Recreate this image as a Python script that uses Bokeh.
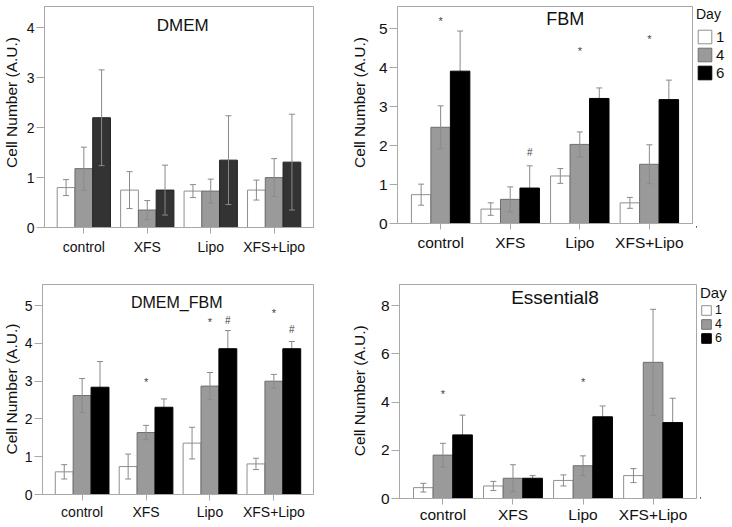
import math
from bokeh.plotting import figure
from bokeh.models import (Range1d, FixedTicker, Label, Legend, LegendItem, Whisker,
                          TeeHead, ColumnDataSource)
from bokeh.layouts import row, column
from bokeh.transform import dodge
from bokeh.embed import file_html
from bokeh.resources import INLINE
from bokeh.core.properties import value

# ---------------- data ----------------
categories = ["control", "XFS", "Lipo", "XFS+Lipo"]
days = ["1", "4", "6"]
y_label = "Cell Number (A.U.)"

dmem_day1 = [0.80, 0.75, 0.73, 0.75]
dmem_day1_err = [0.16, 0.37, 0.13, 0.20]
dmem_day4 = [1.18, 0.35, 0.73, 1.00]
dmem_day4_err = [0.43, 0.19, 0.24, 0.38]
dmem_day6 = [2.20, 0.75, 1.35, 1.31]
dmem_day6_err = [0.96, 0.50, 0.89, 0.96]

fbm_day1 = [0.74, 0.37, 1.22, 0.53]
fbm_day1_err = [0.27, 0.16, 0.19, 0.14]
fbm_day4 = [2.47, 0.62, 2.03, 1.52]
fbm_day4_err = [0.55, 0.32, 0.32, 0.50]
fbm_day6 = [3.91, 0.91, 3.21, 3.18]
fbm_day6_err = [1.03, 0.57, 0.27, 0.50]
fbm_star_y = [5.12, None, 4.36, 4.65]
fbm_hash_y = [None, 1.80, None, None]

dmemfbm_day1 = [0.60, 0.74, 1.36, 0.81]
dmemfbm_day1_err = [0.19, 0.33, 0.42, 0.15]
dmemfbm_day4 = [2.62, 1.64, 2.87, 3.00]
dmemfbm_day4_err = [0.45, 0.19, 0.36, 0.18]
dmemfbm_day6 = [2.84, 2.31, 3.86, 3.86]
dmemfbm_day6_err = [0.68, 0.22, 0.48, 0.19]
dmemfbm_star_y = [None, 2.91, 4.48, 4.72]
dmemfbm_hash_y = [None, None, 4.57, 4.35]

e8_day1 = [0.45, 0.52, 0.75, 0.95]
e8_day1_err = [0.18, 0.19, 0.23, 0.29]
e8_day4 = [1.80, 0.84, 1.36, 5.65]
e8_day4_err = [0.49, 0.56, 0.41, 2.20]
e8_day6 = [2.64, 0.84, 3.39, 3.15]
e8_day6_err = [0.82, 0.11, 0.45, 1.01]
e8_star_y = [4.23, None, 4.71, None]
e8_hash_y = [None, None, None, None]

# ---------------- style ----------------
FONT = "Liberation Sans"
FRAME = "#a8a8a8"
WHITE_FILL, WHITE_LINE = "#ffffff", "#8f8f8f"
GRAY_FILL, GRAY_LINE = "#9a9a9a", "#6e6e6e"
ERR = "#8a8a8a"
TXT = "#111111"
BW = 0.28
pos = list(range(1, len(categories) + 1))


def blank(W, H, bl=0, bt=0):
    q = figure(width=W, height=H, output_backend="svg", toolbar_location=None,
               x_range=Range1d(0, W - bl), y_range=Range1d(0, H - bt),
               x_axis_location=None, y_axis_location=None,
               min_border_left=bl, min_border_top=bt, min_border_right=0, min_border_bottom=0)
    q.grid.visible = False
    q.outline_line_color = None
    return q


def ylabel_fig(W, H, cx, cy):
    # narrow strip holding the rotated y-axis title (cx, cy: centre, px from left/top)
    q = blank(W, H)
    q.add_layout(Label(x=cx, y=H - cy, text=y_label, angle=math.pi / 2,
                       text_align="center", text_baseline="middle",
                       text_font=FONT, text_font_size="15.5px", text_color=TXT))
    return q


def panel(title, series, ymax, yticks, dark, W, H, bl, br, bt, bb,
          tick_fs, title_fs, title_xy, xlab_standoff, stars=None, hashes=None):
    p = figure(width=W, height=H, x_range=Range1d(0.38, 4.62), y_range=Range1d(0, ymax),
               output_backend="svg", toolbar_location=None,
               min_border_left=bl, min_border_right=br, min_border_top=bt, min_border_bottom=bb)
    p.grid.visible = False
    p.outline_line_color = FRAME
    p.outline_line_width = 1
    dark_line = "#000000" if dark == "#000000" else "#222222"
    styles = [(-BW, WHITE_FILL, WHITE_LINE, "annotation"),
              (0.0, GRAY_FILL, GRAY_LINE, "annotation"),
              (BW, dark, dark_line, "underlay" if dark == "#000000" else "annotation")]
    for (vals, errs), (off, fill, line, lvl) in zip(series, styles):
        src = ColumnDataSource(dict(pos=pos, top=vals,
                                    upper=[v + e for v, e in zip(vals, errs)],
                                    lower=[v - e for v, e in zip(vals, errs)]))
        p.vbar(x=dodge("pos", off), top="top", bottom=0, width=BW, source=src,
               fill_color=fill, line_color=line, line_width=1)
        w = Whisker(source=src, base=dodge("pos", off), upper="upper", lower="lower",
                    level=lvl, line_color=ERR, line_width=1,
                    upper_head=TeeHead(size=6, line_color=ERR, line_width=1),
                    lower_head=TeeHead(size=6, line_color=ERR, line_width=1))
        p.add_layout(w)
    for marks, off, sym, fs, dy in ((stars, 0.0, "*", "11px", -3), (hashes, BW, "#", "10px", -1)):
        if marks is None:
            continue
        xs = [pp for pp, m in zip(pos, marks) if m is not None]
        ys = [m for m in marks if m is not None]
        if not xs:
            continue
        s = ColumnDataSource(dict(pos=xs, y=ys, t=[sym] * len(xs)))
        p.text(x=dodge("pos", off), y="y", text="t", source=s, text_align="center",
               text_baseline="middle", text_font=value(FONT), text_font_size=fs,
               text_color="#444444", y_offset=dy)
    p.add_layout(Label(x=title_xy[0], y=title_xy[1], text=title, text_align="center",
                       text_baseline="middle", text_font=FONT, text_font_size=title_fs,
                       text_color=TXT, y_offset=4))
    p.xaxis.ticker = FixedTicker(ticks=pos)
    p.xaxis.major_label_overrides = {pp: c for pp, c in zip(pos, categories)}
    p.yaxis.ticker = FixedTicker(ticks=yticks)
    for ax in p.axis:
        ax.axis_line_color = FRAME
        ax.major_tick_line_color = FRAME
        ax.minor_tick_line_color = None
        ax.major_tick_in = 0
        ax.major_label_text_font = FONT
        ax.major_label_text_font_size = tick_fs
        ax.major_label_text_color = TXT
    p.xaxis.major_tick_out = 6
    p.xaxis.major_label_standoff = xlab_standoff
    p.xaxis.major_label_text_line_height = 1.0
    p.yaxis.major_tick_out = 8
    p.yaxis.major_label_standoff = 2
    return p


def legend_fig(W, H, bl, bt, title_fs, label_fs, glyph, spacing, title_standoff):
    q = blank(W, H, bl, bt)
    cols = [(WHITE_FILL, WHITE_LINE), (GRAY_FILL, GRAY_LINE), ("#000000", "#000000")]
    # swatch renderers (their single bar lies outside the visible range)
    rs = [q.vbar(x=[-1000], top=[1], width=0.5, fill_color=f, line_color=l) for f, l in cols]
    leg = Legend(items=[LegendItem(label=value(d), renderers=[r]) for d, r in zip(days, rs)],
                 location="top_left", title="Day", margin=0, padding=0,
                 spacing=spacing, glyph_width=glyph, glyph_height=glyph,
                 label_height=glyph, label_width=8, label_standoff=3,
                 title_standoff=title_standoff, border_line_color=None,
                 background_fill_alpha=0)
    leg.title_text_font = FONT
    leg.title_text_font_size = title_fs
    leg.title_text_font_style = "normal"
    leg.title_text_color = TXT
    leg.label_text_font = FONT
    leg.label_text_font_size = label_fs
    leg.label_text_color = TXT
    q.add_layout(leg)
    return q


H1, H2 = 258, 268
yA = ylabel_fig(20, H1, 10.5, 112)
pA = panel("DMEM", [(dmem_day1, dmem_day1_err), (dmem_day4, dmem_day4_err), (dmem_day6, dmem_day6_err)],
           4.43, [0, 1, 2, 3, 4], "#333333", 325, 258, 24, 32, 3, 31,
           "14px", "17px", (2.56, 3.97), 5)
yB = ylabel_fig(24, H1, 14, 112)
pB = panel("FBM", [(fbm_day1, fbm_day1_err), (fbm_day4, fbm_day4_err), (fbm_day6, fbm_day6_err)],
           5.57, [0, 1, 2, 3, 4, 5], "#000000", 325, 254, 28, 2, 3, 31,
           "15.5px", "18px", (2.79, 5.14), 4, fbm_star_y, fbm_hash_y)
lB = legend_fig(37, H1, 2, 6, "14px", "15px", 17, 1, 6)

yC = ylabel_fig(20, H2, 10.5, 131)
pC = panel("DMEM_FBM", [(dmemfbm_day1, dmemfbm_day1_err), (dmemfbm_day4, dmemfbm_day4_err),
                        (dmemfbm_day6, dmemfbm_day6_err)],
           5.56, [0, 1, 2, 3, 4, 5], "#000000", 325, 264, 22, 32, 22, 28,
           "14px", "16px", (2.48, 4.99), 3, dmemfbm_star_y, dmemfbm_hash_y)
yD = ylabel_fig(24, H2, 14, 133)
pD = panel("Essential8", [(e8_day1, e8_day1_err), (e8_day4, e8_day4_err), (e8_day6, e8_day6_err)],
           8.88, [0, 2, 4, 6, 8], "#000000", 329, 268, 30, 2, 22, 28,
           "15.5px", "19px", (2.60, 8.19), 1, e8_star_y, e8_hash_y)
lD = legend_fig(33, H2, 2, 26, "15px", "12.5px", 12, 0, 2)

layout = column(row(yA, pA, yB, pB, lB), row(yC, pC, yD, pD, lD))
open("out.html", "w").write(file_html(layout, INLINE))
